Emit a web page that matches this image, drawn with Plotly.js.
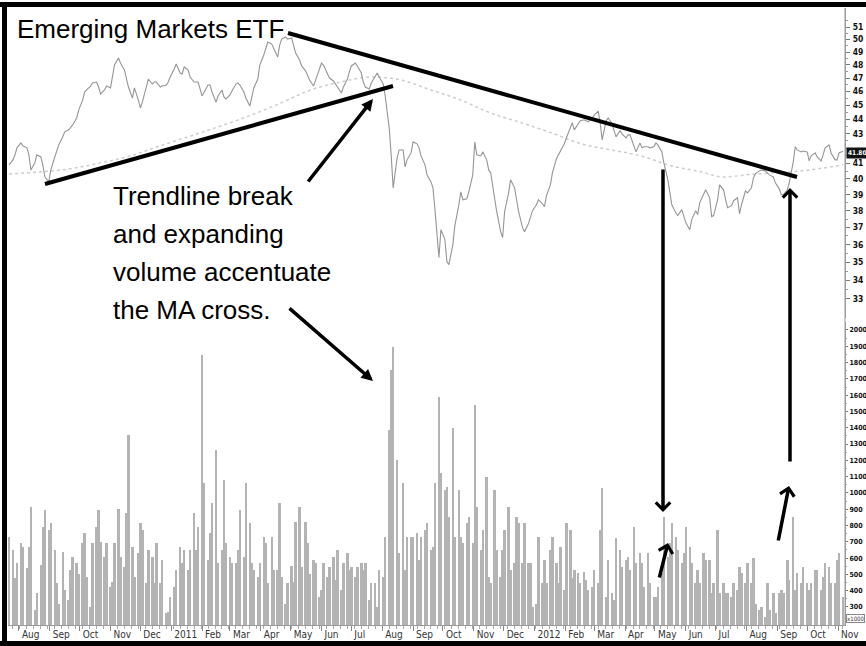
<!DOCTYPE html>
<html><head><meta charset="utf-8">
<script src="https://cdn.plot.ly/plotly-3.0.1.min.js"></script>
<style>html,body{margin:0;padding:0;background:#fff}#chart{width:866px;height:646px}</style>
</head><body><div id="chart"></div>
<script>
// ---------- data ----------
const startDate = '2010-07-22';      // first sample; one sample every 2 trading days
const tradingDayStep = 2;

const close = [
40.90,41.23,41.56,42.03,42.36,42.17,42.03,41.56,40.57,41.03,
41.56,41.42,40.90,40.12,39.80,40.57,41.42,41.89,42.23,42.78,
43.12,43.26,43.40,43.60,44.09,44.65,45.37,45.96,46.11,46.40,
46.63,46.70,46.33,45.81,46.11,46.40,46.26,47.31,47.99,48.53,
48.14,47.61,47.00,46.33,45.52,46.26,45.37,44.80,45.22,46.48,
46.92,46.55,46.70,46.70,46.33,46.40,46.48,46.70,47.08,47.69,
48.07,47.38,47.31,47.84,47.61,47.08,46.70,46.70,46.70,45.67,
45.96,46.48,46.48,45.96,45.22,45.67,46.11,45.60,45.45,45.74,
46.04,46.55,46.63,46.48,45.96,45.52,44.94,45.67,46.26,46.92,
47.99,48.77,49.39,49.79,49.63,49.31,48.61,49.55,50.03,50.19,
50.03,50.11,49.55,48.92,48.37,47.92,47.54,47.23,46.85,46.40,
46.85,47.69,48.14,47.99,47.38,47.00,46.78,46.55,46.26,45.89,
46.33,46.92,47.46,47.92,48.14,47.92,47.38,46.70,46.33,46.18,
46.63,47.08,47.38,47.08,46.55,45.67,43.40,41.56,39.42,41.36,
41.89,41.89,40.77,41.23,41.69,42.43,42.30,42.03,41.49,40.90,
40.25,39.80,39.42,38.07,35.26,36.87,36.29,35.03,34.86,36.00,
37.11,38.37,39.17,38.68,38.74,39.17,40.25,42.43,41.56,41.49,
41.76,41.23,40.57,40.38,38.80,37.96,36.75,36.41,37.96,39.11,
39.93,39.42,38.68,37.96,36.99,36.75,37.23,37.71,38.01,38.37,
38.68,38.43,38.25,38.93,39.61,40.38,41.29,41.56,41.82,42.30,
42.70,43.40,43.75,43.26,43.68,43.89,43.96,43.89,43.82,44.09,
44.29,44.58,43.75,42.57,43.89,44.09,43.68,43.19,42.78,43.19,
42.98,42.70,42.91,42.91,42.17,41.76,42.36,42.03,42.10,42.10,
42.03,42.10,42.36,42.23,41.76,41.03,39.93,38.99,38.37,37.88,
37.71,38.07,37.71,37.29,36.87,37.47,38.01,37.77,38.49,39.05,
39.30,38.80,37.65,37.71,38.68,39.61,39.30,38.68,38.19,38.31,
38.62,38.80,37.82,38.37,39.23,39.11,39.42,40.06,40.31,40.51,
40.57,40.51,40.38,40.25,40.12,39.74,39.36,38.99,38.99,39.30,
39.74,41.10,42.10,41.89,41.76,41.82,41.76,41.16,41.49,41.69,
41.42,41.16,41.56,42.03,42.23,41.69,41.23,41.23,41.69,41.80
];

const volume = [ // thousands
731,649,480,567,690,669,540,669,915,280,
383,557,792,895,772,813,650,444,321,639,
403,342,526,608,567,500,690,751,485,301,
690,792,895,700,608,690,424,450,690,900,
608,547,874,1355,669,485,628,813,772,444,
649,608,444,690,444,588,260,270,362,424,
526,669,567,649,526,649,874,649,792,1846,
1058,588,751,936,1263,567,649,1079,690,608,
567,567,649,895,608,1058,813,567,526,485,
567,731,690,444,731,526,526,936,485,321,
444,550,450,823,915,547,823,690,500,588,
567,362,403,567,485,547,608,465,649,403,
567,628,526,547,485,547,567,526,567,342,
444,444,301,526,485,731,1386,1754,1898,1202,
628,1058,526,731,731,731,751,588,731,772,
813,649,669,1058,1591,1120,1017,1038,854,1396,
731,1017,731,690,813,854,690,1539,915,649,
772,1099,485,444,1017,649,485,649,772,915,
526,567,854,813,567,813,567,567,300,321,
731,444,588,444,649,731,567,444,669,403,
813,772,480,526,506,444,516,465,403,424,
526,444,772,1028,362,588,383,342,721,649,
547,588,608,526,792,567,628,567,424,628,
444,362,362,424,506,854,608,690,813,731,
649,567,628,792,669,567,444,526,444,628,
588,588,383,444,772,383,444,383,383,362,
444,403,547,506,444,567,444,598,321,280,
301,240,444,280,383,260,383,403,383,588,
465,854,403,506,444,547,444,403,444,526,
526,403,485,567,547,444,444,588,628,362
];

const maDates = ['2010-07-22','2010-08-22','2010-09-21','2010-10-22','2010-11-21','2010-12-21',
  '2011-01-30','2011-03-12','2011-04-21','2011-05-21','2011-06-20','2011-07-21','2011-08-20',
  '2011-09-19','2011-10-19','2011-11-18','2011-12-19','2012-01-18','2012-02-17','2012-03-18',
  '2012-04-17','2012-05-18','2012-06-17','2012-07-07','2012-08-01','2012-08-26','2012-09-26','2012-11-06'];
const maValues = [40.31,40.44,40.64,41.03,41.49,42.17,43.05,44.02,45.15,46.11,46.70,47.08,46.85,
  46.11,45.37,44.44,43.75,43.05,42.30,41.89,41.49,40.83,40.44,40.12,40.25,40.38,40.51,40.90];

const monthTicks = ['2010-08-01','2010-09-01','2010-10-01','2010-11-01','2010-12-01','2011-01-01',
  '2011-02-01','2011-03-01','2011-04-01','2011-05-01','2011-06-01','2011-07-01','2011-08-01',
  '2011-09-01','2011-10-01','2011-11-01','2011-12-01','2012-01-01','2012-02-01','2012-03-01',
  '2012-04-01','2012-05-01','2012-06-01','2012-07-01','2012-08-01','2012-09-01','2012-10-01','2012-11-01'];
const monthLabels = ['Aug','Sep','Oct','Nov','Dec','2011','Feb','Mar','Apr','May','Jun','Jul','Aug',
  'Sep','Oct','Nov','Dec','2012','Feb','Mar','Apr','May','Jun','Jul','Aug','Sep','Oct','Nov'];

const priceTicks = [33,34,35,36,37,38,39,40,41,42,43,44,45,46,47,48,49,50,51];
const priceTickLabels = ['33','34','35','36','37','38','39','40','41','','43','44','45','46','47','48','49','50','51'];
const priceMinorTicks = [33.5,34.5,35.5,36.5,37.5,38.5,39.5,40.5,41.5,42.5,43.5,44.5,45.5,46.5,47.5,48.5,49.5,50.5,51.5];
const volumeTicks = [300,400,500,600,700,800,900,1000,1100,1200,1300,1400,1500,1600,1700,1800,1900,2000];
const volumeMinorTicks = [250,350,450,550,650,750,850,950,1050,1150,1250,1350,1450,1550,1650,1750,1850,1950,2050];
const lastPriceLabel = '41.80';

const titleText = 'Emerging Markets ETF';
const noteLines = ['Trendline break','and expanding','volume accentuate','the MA cross.'];

// ---------- build sample dates (every 2nd trading day) ----------
function tradingDates(start, n, step) {
  const out = [];
  const d = new Date(start + 'T00:00:00Z');
  for (let i = 0; i < n; i++) {
    out.push(d.toISOString().slice(0, 10));
    let k = 0;
    while (k < step) {
      d.setUTCDate(d.getUTCDate() + 1);
      const wd = d.getUTCDay();
      if (wd !== 0 && wd !== 6) k++;
    }
  }
  return out;
}
const dates = tradingDates(startDate, close.length, tradingDayStep);

// ---------- geometry helpers (pixel -> paper) ----------
const L = 8, R = 845, T = 8, B = 625;
const px = x => (x - L) / (R - L);
const py = y => (B - y) / (B - T);

const narrow = 'Liberation Sans Narrow, Arial Narrow, DejaVu Sans Condensed, Arial, sans-serif';
const sans = 'Liberation Sans, Arial, Helvetica, sans-serif';
const DAY = 86400000;

const traces = [
  { type: 'bar', x: dates, y: volume, yaxis: 'y2', xaxis: 'x', width: 2.45 * DAY,
    marker: { color: '#b3b3b3', line: { width: 0 } }, hoverinfo: 'skip' },
  { type: 'scatter', mode: 'lines', x: maDates, y: maValues, xaxis: 'x', yaxis: 'y',
    line: { color: '#cdcdcd', width: 1.5, shape: 'spline', dash: 'dot' }, hoverinfo: 'skip' },
  { type: 'scatter', mode: 'lines', x: dates, y: close, xaxis: 'x', yaxis: 'y',
    line: { color: '#959595', width: 1.1 }, hoverinfo: 'skip' }
];

const blk = { color: '#000', width: 4 };
const shapes = [
  // frame
  { type: 'rect', xref: 'paper', yref: 'paper', x0: px(0), x1: px(866), y0: py(7), y1: py(2), fillcolor: '#000', line: { width: 0 } },
  { type: 'rect', xref: 'paper', yref: 'paper', x0: px(2), x1: px(7), y0: py(646), y1: py(2), fillcolor: '#000', line: { width: 0 } },
  { type: 'rect', xref: 'paper', yref: 'paper', x0: px(0), x1: px(866), y0: py(646), y1: py(641), fillcolor: '#000', line: { width: 0 } },
  // right axis line
  { type: 'line', xref: 'paper', yref: 'paper', x0: 1, x1: 1, y0: 0, y1: 1, line: { color: '#9a9a9a', width: 1 } },
  // trendlines
  { type: 'line', xref: 'paper', yref: 'paper', x0: px(45), y0: py(184), x1: px(393), y1: py(86), line: blk },
  { type: 'line', xref: 'paper', yref: 'paper', x0: px(288), y0: py(33), x1: px(797), y1: py(177), line: blk }
];

function arrow(hx, hy, tx, ty, head, size) {
  return { xref: 'paper', yref: 'paper', x: px(hx), y: py(hy), ax: tx - hx, ay: ty - hy,
    text: '', showarrow: true, arrowcolor: '#000', arrowwidth: 3.5, arrowhead: head,
    arrowsize: size, standoff: 0, startstandoff: 0 };
}
function label(text, x, y, size) {
  return { xref: 'paper', yref: 'paper', x: px(x), y: py(y), xanchor: 'left', yanchor: 'middle',
    text: text, showarrow: false, font: { family: sans, size: size, color: '#000' } };
}

const annotations = [
  label(titleText, 15, 29, 26),
  label(noteLines[0], 111, 196, 26),
  label(noteLines[1], 111, 234, 26),
  label(noteLines[2], 111, 272, 26),
  label(noteLines[3], 111, 310, 26),
  arrow(373, 99, 307, 183, 2, 0.66),
  arrow(373, 381, 288, 307, 2, 0.66),
  arrow(663, 512, 663, 168, 4, 0.8),
  arrow(668, 543, 659, 579, 4, 0.8),
  arrow(790, 188, 790, 463, 4, 0.8),
  arrow(789, 486, 778, 542, 4, 0.8),
  { xref: 'paper', yref: 'paper', x: 1, xshift: 1, y: py(152.5), xanchor: 'left', yanchor: 'middle',
    text: '<b>' + lastPriceLabel + '</b>', showarrow: false, bgcolor: '#111', borderpad: 1,
    font: { family: narrow, size: 6.5, color: '#fff' } },
  { xref: 'paper', yref: 'paper', x: 1, xshift: 1, y: py(618), xanchor: 'left', yanchor: 'middle',
    text: 'x1000', showarrow: false, bgcolor: '#fff', bordercolor: '#888', borderwidth: 1, borderpad: 0,
    font: { family: narrow, size: 6, color: '#333' } }
];

const layout = {
  width: 866, height: 646,
  margin: { l: L, r: 866 - R, t: T, b: 646 - B, pad: 0 },
  paper_bgcolor: '#fff', plot_bgcolor: '#fff',
  showlegend: false, bargap: 0,
  xaxis: {
    type: 'date', range: ['2010-07-21', '2012-11-08'], anchor: 'y2',
    tickmode: 'array', tickvals: monthTicks, ticktext: monthLabels,
    ticks: 'outside', ticklen: 5, tickcolor: '#8a8a8a', tickwidth: 1,
    ticklabelposition: 'outside right', ticklabelshift: 2,
    showline: true, linecolor: '#9a9a9a', linewidth: 1,
    showgrid: false, zeroline: false,
    tickfont: { family: narrow, size: 10, color: '#333' },
    minor: { ticks: 'outside', ticklen: 3, tickcolor: '#aaa', dtick: 7 * DAY, tick0: '2010-07-26', showgrid: false }
  },
  yaxis: {
    type: 'log', domain: [py(318), 1], range: [1.50524, 1.7208], side: 'right', anchor: 'x',
    tickmode: 'array', tickvals: priceTicks, ticktext: priceTickLabels,
    ticks: 'outside', ticklen: 4, tickcolor: '#777', ticklabelstandoff: 1,
    showline: true, linecolor: '#9a9a9a', showgrid: false, zeroline: false,
    tickfont: { family: narrow, size: 8.5, color: '#111', weight: 'bold' },
    minor: { tickmode: 'array', tickvals: priceMinorTicks, ticks: 'outside', ticklen: 2, tickcolor: '#999', showgrid: false }
  },
  yaxis2: {
    domain: [0, py(322)], range: [189, 2049], side: 'right', anchor: 'x',
    tickmode: 'array', tickvals: volumeTicks, ticktext: volumeTicks.map(String),
    ticks: 'outside', ticklen: 2, tickcolor: '#777', ticklabelstandoff: 0,
    showline: true, linecolor: '#9a9a9a', showgrid: false, zeroline: false,
    tickfont: { family: narrow, size: 7, color: '#111', weight: 'bold' },
    minor: { tickmode: 'array', tickvals: volumeMinorTicks, ticks: 'outside', ticklen: 1, tickcolor: '#999', showgrid: false }
  },
  shapes: shapes,
  annotations: annotations
};

Plotly.newPlot('chart', traces, layout, { staticPlot: true, displayModeBar: false });
</script></body></html>
